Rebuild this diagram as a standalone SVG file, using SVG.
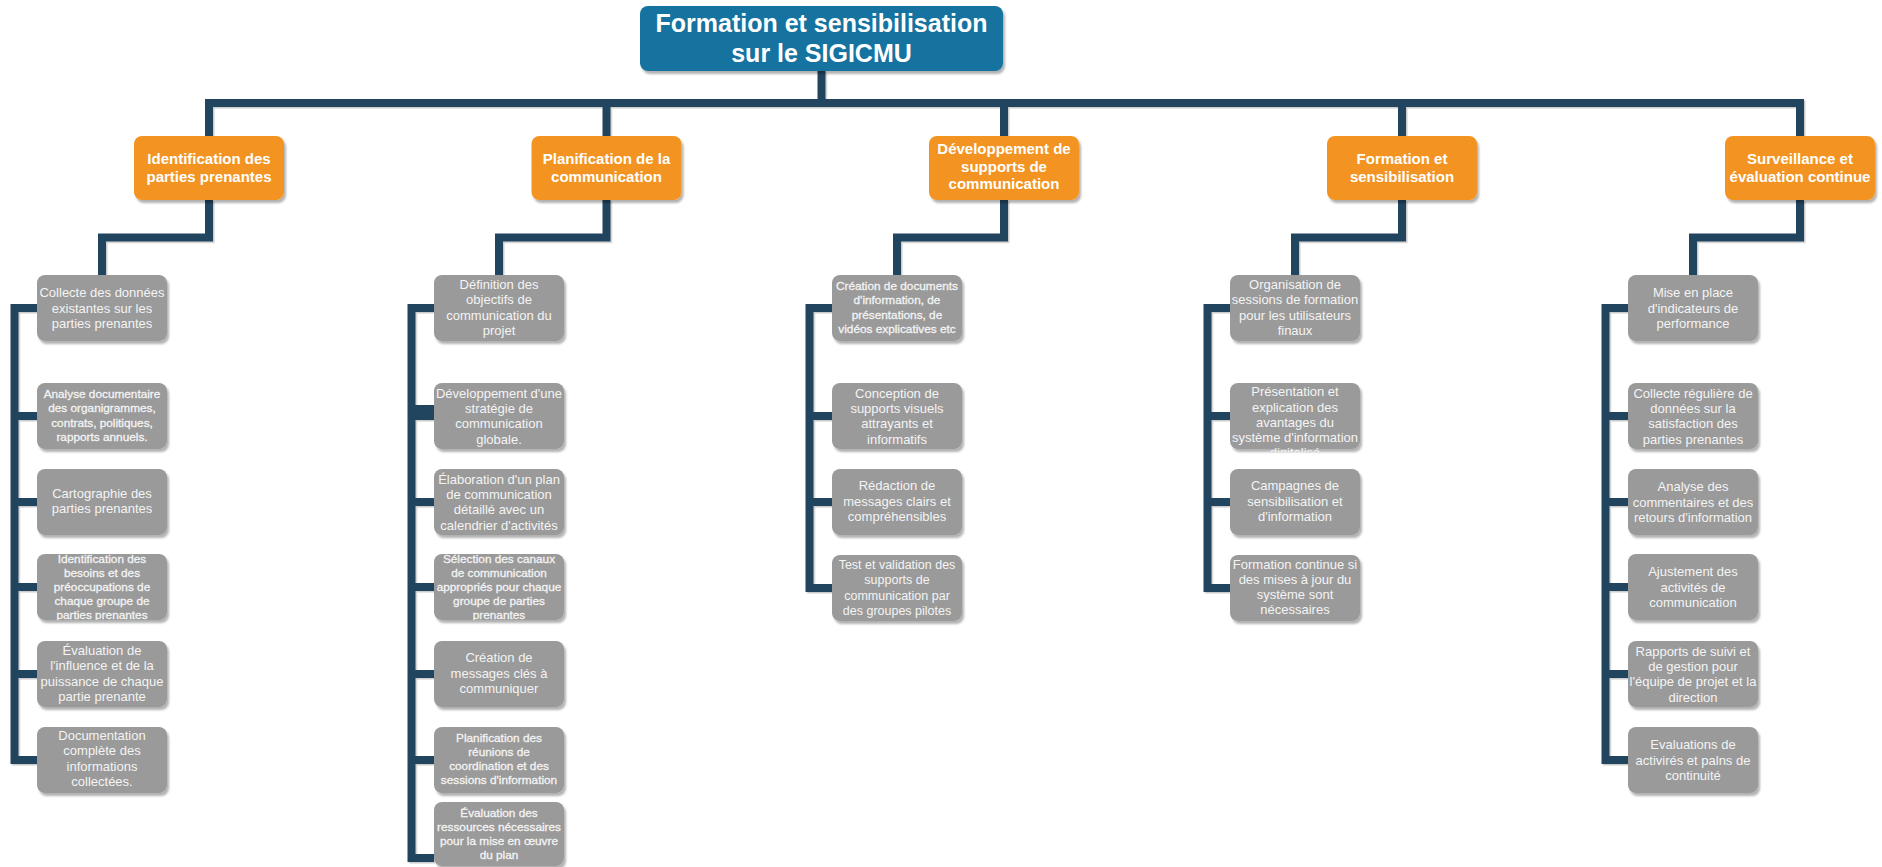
<svg xmlns="http://www.w3.org/2000/svg" width="1882" height="867" viewBox="0 0 1882 867">
<style>
.bg{fill:#ffffff}
.root{fill:#13739F}
.l1{fill:#F39420}
.l2{fill:#9A9A9A}
.conn{fill:none;stroke:#23455F;stroke-width:8;stroke-linejoin:miter;stroke-linecap:butt}
.tr{font-family:"Liberation Sans",Arial,sans-serif;font-weight:bold;font-size:25px;fill:#ffffff;text-anchor:middle}
.to{font-family:"Liberation Sans",Arial,sans-serif;font-weight:bold;font-size:15px;fill:#ffffff;text-anchor:middle}
.tg{font-family:"Liberation Sans",Arial,sans-serif;font-size:13px;fill:#F4F4F4;text-anchor:middle}
.ts{font-family:"Liberation Sans",Arial,sans-serif;font-size:11.8px;fill:#F4F4F4;stroke:#F4F4F4;stroke-width:0.3;text-anchor:middle}
.tm{font-family:"Liberation Sans",Arial,sans-serif;font-size:12.5px;fill:#F4F4F4;text-anchor:middle}
</style>
<defs>
<filter id="sh" x="-10%" y="-10%" width="130%" height="140%">
<feDropShadow dx="2" dy="3" stdDeviation="1.2" flood-color="#000000" flood-opacity="0.3"/>
</filter>
<filter id="lsh" x="-5%" y="-5%" width="110%" height="110%">
<feDropShadow dx="1.5" dy="1.5" stdDeviation="0.6" flood-color="#000000" flood-opacity="0.2"/>
</filter>
<clipPath id="c14"><rect x="37" y="554" width="130" height="66" rx="8"/></clipPath>
<clipPath id="c24"><rect x="434" y="554" width="130" height="66" rx="8"/></clipPath>
<clipPath id="c42"><rect x="1230" y="383" width="130" height="69"/></clipPath>
</defs>
<rect class="bg" x="0" y="0" width="1882" height="867"/>

<g id="connectors" filter="url(#lsh)">
<path class="conn" d="M821.5,71 V103"/>
<path class="conn" d="M209,136 V103 H1800 V136"/>
<path class="conn" d="M606.5,103 V136 M1004,103 V136 M1402,103 V136"/>
<path class="conn" d="M209,200 V237.5 H102 V275"/>
<path class="conn" d="M606.5,200 V237.5 H499 V275"/>
<path class="conn" d="M1004,200 V237.5 H897 V275"/>
<path class="conn" d="M1402,200 V237.5 H1295 V275"/>
<path class="conn" d="M1800,200 V237.5 H1693 V275"/>
<path class="conn" d="M37,308 H14.5 V760 H37 M14.5,416 H37 M14.5,502 H37 M14.5,587 H37 M14.5,674 H37"/>
<path class="conn" d="M434,308 H411.5 V858 H434 M411.5,416 H434 M411.5,409 H434 M411.5,502 H434 M411.5,587 H434 M411.5,674 H434 M411.5,760 H434"/>
<path class="conn" d="M832,308 H809.5 V588 H832 M809.5,416 H832 M809.5,502 H832"/>
<path class="conn" d="M1230,308 H1207.5 V588 H1230 M1207.5,416 H1230 M1207.5,502 H1230"/>
<path class="conn" d="M1628,308 H1605.5 V760 H1628 M1605.5,416 H1628 M1605.5,502 H1628 M1605.5,587 H1628 M1605.5,674 H1628"/>
</g>

<g id="root">
<rect class="root" x="640" y="6" width="363" height="65" rx="8" filter="url(#sh)"/>
<text class="tr"><tspan x="821.5" y="32">Formation et sensibilisation</tspan><tspan x="821.5" y="62">sur le SIGICMU</tspan></text>
</g>

<g id="n1">
<rect class="l1" x="134" y="136" width="150" height="64" rx="8" filter="url(#sh)"/>
<text class="to"><tspan x="209" y="164">Identification des</tspan><tspan x="209" y="181.5">parties prenantes</tspan></text>
</g>
<g id="n2">
<rect class="l1" x="531.5" y="136" width="150" height="64" rx="8" filter="url(#sh)"/>
<text class="to"><tspan x="606.5" y="164">Planification de la</tspan><tspan x="606.5" y="181.5">communication</tspan></text>
</g>
<g id="n3">
<rect class="l1" x="929" y="136" width="150" height="64" rx="8" filter="url(#sh)"/>
<text class="to"><tspan x="1004" y="154">Développement de</tspan><tspan x="1004" y="171.5">supports de</tspan><tspan x="1004" y="189">communication</tspan></text>
</g>
<g id="n4">
<rect class="l1" x="1327" y="136" width="150" height="64" rx="8" filter="url(#sh)"/>
<text class="to"><tspan x="1402" y="164">Formation et</tspan><tspan x="1402" y="181.5">sensibilisation</tspan></text>
</g>
<g id="n5">
<rect class="l1" x="1725" y="136" width="150" height="64" rx="8" filter="url(#sh)"/>
<text class="to"><tspan x="1800" y="164">Surveillance et</tspan><tspan x="1800" y="181.5">évaluation continue</tspan></text>
</g>

<!-- Column 1 -->
<g id="n1-1">
<rect class="l2" x="37" y="275" width="130" height="66" rx="8" filter="url(#sh)"/>
<text class="tg"><tspan x="102" y="297.3">Collecte des données</tspan><tspan x="102" y="312.6">existantes sur les</tspan><tspan x="102" y="327.9">parties prenantes</tspan></text>
</g>
<g id="n1-2">
<rect class="l2" x="37" y="383" width="130" height="66" rx="8" filter="url(#sh)"/>
<text class="ts"><tspan x="102" y="397.5">Analyse documentaire</tspan><tspan x="102" y="412">des organigrammes,</tspan><tspan x="102" y="426.5">contrats, politiques,</tspan><tspan x="102" y="441">rapports annuels.</tspan></text>
</g>
<g id="n1-3">
<rect class="l2" x="37" y="469" width="130" height="66" rx="8" filter="url(#sh)"/>
<text class="tg"><tspan x="102" y="497.5">Cartographie des</tspan><tspan x="102" y="513">parties prenantes</tspan></text>
</g>
<g id="n1-4">
<rect class="l2" x="37" y="554" width="130" height="66" rx="8" filter="url(#sh)"/>
<text class="ts" clip-path="url(#c14)"><tspan x="102" y="562.5">Identification des</tspan><tspan x="102" y="576.5">besoins et des</tspan><tspan x="102" y="590.5">préoccupations de</tspan><tspan x="102" y="604.5">chaque groupe de</tspan><tspan x="102" y="618.5">parties prenantes</tspan></text>
</g>
<g id="n1-5">
<rect class="l2" x="37" y="641" width="130" height="66" rx="8" filter="url(#sh)"/>
<text class="tg"><tspan x="102" y="654.5">Évaluation de</tspan><tspan x="102" y="670">l'influence et de la</tspan><tspan x="102" y="685.5">puissance de chaque</tspan><tspan x="102" y="701">partie prenante</tspan></text>
</g>
<g id="n1-6">
<rect class="l2" x="37" y="727" width="130" height="66" rx="8" filter="url(#sh)"/>
<text class="tg"><tspan x="102" y="739.5">Documentation</tspan><tspan x="102" y="755">complète des</tspan><tspan x="102" y="770.5">informations</tspan><tspan x="102" y="786">collectées.</tspan></text>
</g>

<!-- Column 2 -->
<g id="n2-1">
<rect class="l2" x="434" y="275" width="130" height="66" rx="8" filter="url(#sh)"/>
<text class="tg"><tspan x="499" y="289">Définition des</tspan><tspan x="499" y="304.3">objectifs de</tspan><tspan x="499" y="319.6">communication du</tspan><tspan x="499" y="334.9">projet</tspan></text>
</g>
<g id="n2-2">
<rect class="l2" x="434" y="383" width="130" height="66" rx="8" filter="url(#sh)"/>
<text class="tg"><tspan x="499" y="397.6">Développement d'une</tspan><tspan x="499" y="412.9">stratégie de</tspan><tspan x="499" y="428.2">communication</tspan><tspan x="499" y="443.5">globale.</tspan></text>
</g>
<g id="n2-3">
<rect class="l2" x="434" y="469" width="130" height="66" rx="8" filter="url(#sh)"/>
<text class="tg"><tspan x="499" y="483.6">Élaboration d'un plan</tspan><tspan x="499" y="498.9">de communication</tspan><tspan x="499" y="514.2">détaillé avec un</tspan><tspan x="499" y="529.5">calendrier d'activités</tspan></text>
</g>
<g id="n2-4">
<rect class="l2" x="434" y="554" width="130" height="66" rx="8" filter="url(#sh)"/>
<text class="ts" clip-path="url(#c24)"><tspan x="499" y="562.5">Sélection des canaux</tspan><tspan x="499" y="576.5">de communication</tspan><tspan x="499" y="590.5">appropriés pour chaque</tspan><tspan x="499" y="604.5">groupe de parties</tspan><tspan x="499" y="618.5">prenantes</tspan></text>
</g>
<g id="n2-5">
<rect class="l2" x="434" y="641" width="130" height="66" rx="8" filter="url(#sh)"/>
<text class="tg"><tspan x="499" y="662">Création de</tspan><tspan x="499" y="677.5">messages clés à</tspan><tspan x="499" y="693">communiquer</tspan></text>
</g>
<g id="n2-6">
<rect class="l2" x="434" y="727" width="130" height="66" rx="8" filter="url(#sh)"/>
<text class="ts"><tspan x="499" y="741.5">Planification des</tspan><tspan x="499" y="755.8">réunions de</tspan><tspan x="499" y="770.1">coordination et des</tspan><tspan x="499" y="784.4">sessions d'information</tspan></text>
</g>
<g id="n2-7">
<rect class="l2" x="434" y="802" width="130" height="64" rx="8" filter="url(#sh)"/>
<text class="ts"><tspan x="499" y="816.5">Évaluation des</tspan><tspan x="499" y="830.8">ressources nécessaires</tspan><tspan x="499" y="845.1">pour la mise en œuvre</tspan><tspan x="499" y="859.4">du plan</tspan></text>
</g>

<!-- Column 3 -->
<g id="n3-1">
<rect class="l2" x="832" y="275" width="130" height="66" rx="8" filter="url(#sh)"/>
<text class="ts"><tspan x="897" y="290">Création de documents</tspan><tspan x="897" y="304.3">d'information, de</tspan><tspan x="897" y="318.6">présentations, de</tspan><tspan x="897" y="332.9">vidéos explicatives etc</tspan></text>
</g>
<g id="n3-2">
<rect class="l2" x="832" y="383" width="130" height="66" rx="8" filter="url(#sh)"/>
<text class="tg"><tspan x="897" y="397.6">Conception de</tspan><tspan x="897" y="412.9">supports visuels</tspan><tspan x="897" y="428.2">attrayants et</tspan><tspan x="897" y="443.5">informatifs</tspan></text>
</g>
<g id="n3-3">
<rect class="l2" x="832" y="469" width="130" height="66" rx="8" filter="url(#sh)"/>
<text class="tg"><tspan x="897" y="490">Rédaction de</tspan><tspan x="897" y="505.5">messages clairs et</tspan><tspan x="897" y="521">compréhensibles</tspan></text>
</g>
<g id="n3-4">
<rect class="l2" x="832" y="555" width="130" height="66" rx="8" filter="url(#sh)"/>
<text class="tm"><tspan x="897" y="569">Test et validation des</tspan><tspan x="897" y="584.3">supports de</tspan><tspan x="897" y="599.6">communication par</tspan><tspan x="897" y="614.9">des groupes pilotes</tspan></text>
</g>

<!-- Column 4 -->
<g id="n4-1">
<rect class="l2" x="1230" y="275" width="130" height="66" rx="8" filter="url(#sh)"/>
<text class="tg"><tspan x="1295" y="289">Organisation de</tspan><tspan x="1295" y="304.3">sessions de formation</tspan><tspan x="1295" y="319.6">pour les utilisateurs</tspan><tspan x="1295" y="334.9">finaux</tspan></text>
</g>
<g id="n4-2">
<rect class="l2" x="1230" y="383" width="130" height="66" rx="8" filter="url(#sh)"/>
<text class="tg" clip-path="url(#c42)"><tspan x="1295" y="396.2">Présentation et</tspan><tspan x="1295" y="411.5">explication des</tspan><tspan x="1295" y="426.8">avantages du</tspan><tspan x="1295" y="442.1">système d'information</tspan><tspan x="1295" y="457.4">digitalisé</tspan></text>
</g>
<g id="n4-3">
<rect class="l2" x="1230" y="469" width="130" height="66" rx="8" filter="url(#sh)"/>
<text class="tg"><tspan x="1295" y="490">Campagnes de</tspan><tspan x="1295" y="505.5">sensibilisation et</tspan><tspan x="1295" y="521">d'information</tspan></text>
</g>
<g id="n4-4">
<rect class="l2" x="1230" y="555" width="130" height="66" rx="8" filter="url(#sh)"/>
<text class="tg"><tspan x="1295" y="568.5">Formation continue si</tspan><tspan x="1295" y="583.8">des mises à jour du</tspan><tspan x="1295" y="599.1">système sont</tspan><tspan x="1295" y="614.4">nécessaires</tspan></text>
</g>

<!-- Column 5 -->
<g id="n5-1">
<rect class="l2" x="1628" y="275" width="130" height="66" rx="8" filter="url(#sh)"/>
<text class="tg"><tspan x="1693" y="297.3">Mise en place</tspan><tspan x="1693" y="312.6">d'indicateurs de</tspan><tspan x="1693" y="327.9">performance</tspan></text>
</g>
<g id="n5-2">
<rect class="l2" x="1628" y="383" width="130" height="66" rx="8" filter="url(#sh)"/>
<text class="tg"><tspan x="1693" y="397.6">Collecte régulière de</tspan><tspan x="1693" y="412.9">données sur la</tspan><tspan x="1693" y="428.2">satisfaction des</tspan><tspan x="1693" y="443.5">parties prenantes</tspan></text>
</g>
<g id="n5-3">
<rect class="l2" x="1628" y="469" width="130" height="66" rx="8" filter="url(#sh)"/>
<text class="tg"><tspan x="1693" y="491.3">Analyse des</tspan><tspan x="1693" y="506.6">commentaires et des</tspan><tspan x="1693" y="521.9">retours d'information</tspan></text>
</g>
<g id="n5-4">
<rect class="l2" x="1628" y="554" width="130" height="66" rx="8" filter="url(#sh)"/>
<text class="tg"><tspan x="1693" y="576.3">Ajustement des</tspan><tspan x="1693" y="591.6">activités de</tspan><tspan x="1693" y="606.9">communication</tspan></text>
</g>
<g id="n5-5">
<rect class="l2" x="1628" y="641" width="130" height="66" rx="8" filter="url(#sh)"/>
<text class="tg"><tspan x="1693" y="655.6">Rapports de suivi et</tspan><tspan x="1693" y="670.9">de gestion pour</tspan><tspan x="1693" y="686.2">l'équipe de projet et la</tspan><tspan x="1693" y="701.5">direction</tspan></text>
</g>
<g id="n5-6">
<rect class="l2" x="1628" y="727" width="130" height="66" rx="8" filter="url(#sh)"/>
<text class="tg"><tspan x="1693" y="749.3">Evaluations de</tspan><tspan x="1693" y="764.6">activirés et palns de</tspan><tspan x="1693" y="779.9">continuité</tspan></text>
</g>
</svg>
